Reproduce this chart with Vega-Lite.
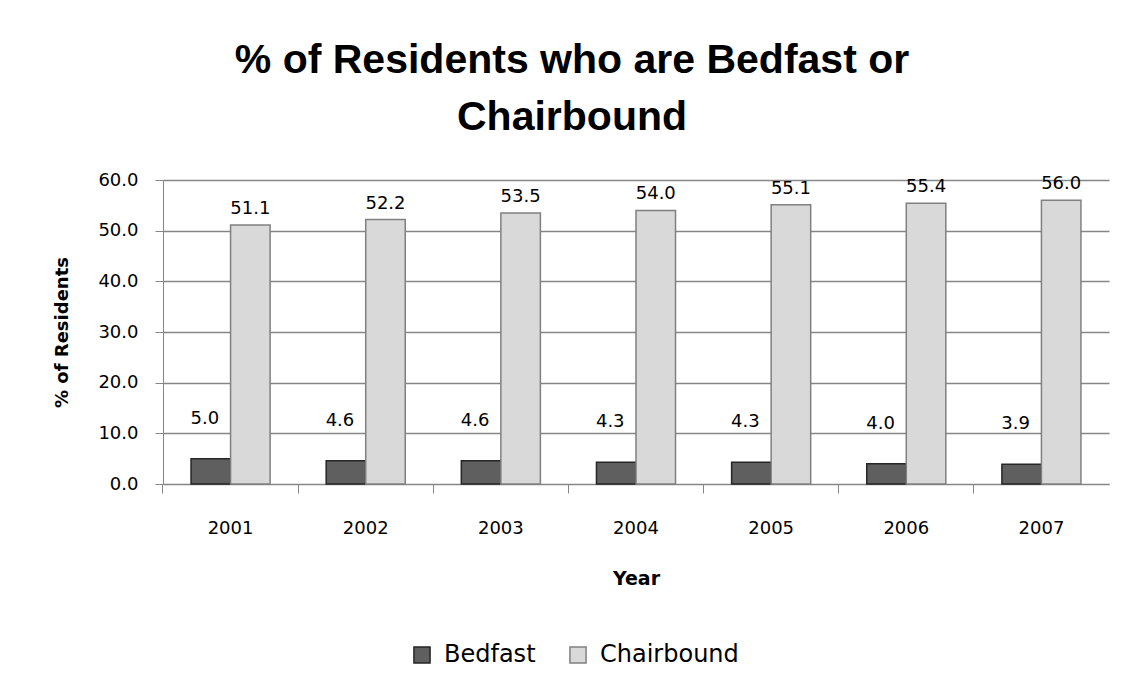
{
  "$schema": "https://vega.github.io/schema/vega-lite/v6.json",
  "width": 946,
  "height": 304,
  "autosize": {"type": "none"},
  "padding": {"left": 163, "top": 180, "right": 29, "bottom": 209},
  "background": "white",
  "title": {
    "text": ["% of Residents who are Bedfast or", "Chairbound"],
    "font": "Liberation Sans",
    "fontSize": 41,
    "fontWeight": "bold",
    "color": "black",
    "lineHeight": 57,
    "anchor": "middle",
    "dx": -64,
    "offset": 32
  },
  "data": {
    "values": [
      {"year": "2001", "series": "Bedfast", "value": 5.0},
      {"year": "2002", "series": "Bedfast", "value": 4.6},
      {"year": "2003", "series": "Bedfast", "value": 4.6},
      {"year": "2004", "series": "Bedfast", "value": 4.3},
      {"year": "2005", "series": "Bedfast", "value": 4.3},
      {"year": "2006", "series": "Bedfast", "value": 4.0},
      {"year": "2007", "series": "Bedfast", "value": 3.9},
      {"year": "2001", "series": "Chairbound", "value": 51.1},
      {"year": "2002", "series": "Chairbound", "value": 52.2},
      {"year": "2003", "series": "Chairbound", "value": 53.5},
      {"year": "2004", "series": "Chairbound", "value": 54.0},
      {"year": "2005", "series": "Chairbound", "value": 55.1},
      {"year": "2006", "series": "Chairbound", "value": 55.4},
      {"year": "2007", "series": "Chairbound", "value": 56.0}
    ]
  },
  "encoding": {
    "x": {
      "field": "year",
      "type": "nominal",
      "title": "Year",
      "scale": {"paddingInner": 0.415, "paddingOuter": 0.2075},
      "axis": {
        "labelAngle": 0,
        "bandPosition": -0.355,
        "labelFont": "DejaVu Sans",
        "labelFontSize": 18,
        "labelColor": "black",
        "labelPadding": 26,
        "tickSize": 9,
        "tickColor": "#868686",
        "domainColor": "#868686",
        "titleFont": "DejaVu Sans",
        "titleFontSize": 19,
        "titleFontWeight": "bold",
        "titleColor": "black",
        "titlePadding": 32
      }
    },
    "xOffset": {"field": "series", "type": "nominal", "scale": {"paddingInner": 0, "paddingOuter": 0}},
    "y": {
      "field": "value",
      "type": "quantitative",
      "title": "% of Residents",
      "scale": {"domain": [0, 60], "nice": false},
      "axis": {
        "values": [0, 10, 20, 30, 40, 50, 60],
        "format": ".1f",
        "labelFont": "DejaVu Sans",
        "labelFontSize": 18,
        "labelColor": "black",
        "labelPadding": 17,
        "tickSize": 8,
        "tickColor": "#868686",
        "domainColor": "#868686",
        "gridColor": "#868686",
        "gridWidth": 1.5,
        "titleFont": "DejaVu Sans",
        "titleFontSize": 18,
        "titleFontWeight": "bold",
        "titleColor": "black",
        "titlePadding": 26
      }
    }
  },
  "layer": [
    {
      "mark": {"type": "bar", "strokeWidth": 1.5},
      "encoding": {
        "fill": {
          "field": "series",
          "type": "nominal",
          "title": null,
          "scale": {"domain": ["Bedfast", "Chairbound"], "range": ["#5f5f5f", "#d9d9d9"]}
        },
        "stroke": {
          "field": "series",
          "type": "nominal",
          "title": null,
          "scale": {"domain": ["Bedfast", "Chairbound"], "range": ["#262626", "#808080"]}
        }
      }
    },
    {
      "transform": [{"filter": "datum.series === 'Bedfast'"}],
      "mark": {"type": "text", "font": "DejaVu Sans", "fontSize": 18, "color": "black", "baseline": "middle", "dy": -40, "dx": -6},
      "encoding": {"text": {"field": "value", "type": "quantitative", "format": ".1f"}}
    },
    {
      "transform": [{"filter": "datum.series === 'Chairbound'"}],
      "mark": {"type": "text", "font": "DejaVu Sans", "fontSize": 18, "color": "black", "baseline": "middle", "dy": -16},
      "encoding": {"text": {"field": "value", "type": "quantitative", "format": ".1f"}}
    }
  ],
  "config": {
    "view": {"stroke": null},
    "axisY": {"domain": true},
    "axisX": {"grid": false},
    "legend": {
      "orient": "none",
      "direction": "horizontal",
      "legendX": 247,
      "legendY": 463,
      "symbolType": "square",
      "symbolSize": 260,
      "symbolStrokeWidth": 1.5,
      "labelFont": "DejaVu Sans",
      "labelFontSize": 24,
      "labelColor": "black",
      "columnPadding": 30,
      "labelOffset": 10
    }
  }
}
